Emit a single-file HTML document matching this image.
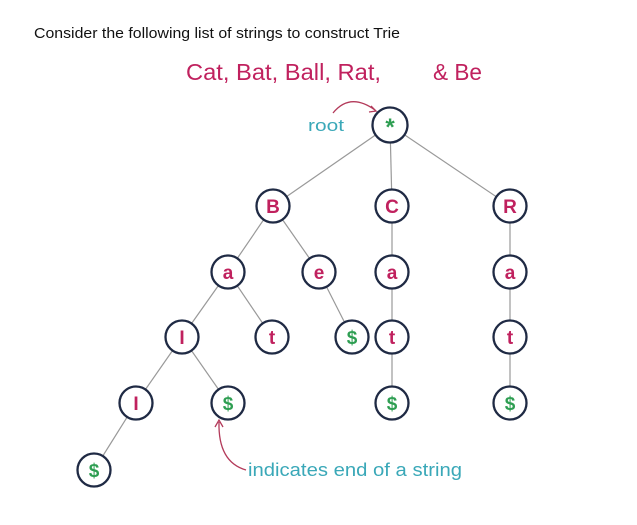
<!DOCTYPE html>
<html><head><meta charset="utf-8"><style>
html,body{margin:0;padding:0;background:#fff;width:637px;height:525px;overflow:hidden}
svg{display:block}
</style></head><body>
<svg id="s" width="637" height="525" viewBox="0 0 637 525">
<text x="34" y="38" font-family="Liberation Sans, sans-serif" font-size="15" fill="#111" textLength="366" lengthAdjust="spacingAndGlyphs">Consider the following list of strings to construct Trie</text>
<text x="186" y="80" font-family="Liberation Sans, sans-serif" font-size="23" fill="#c0215e" textLength="195" lengthAdjust="spacingAndGlyphs">Cat, Bat, Ball, Rat,</text>
<text x="433" y="80" font-family="Liberation Sans, sans-serif" font-size="23" fill="#c0215e" textLength="49" lengthAdjust="spacingAndGlyphs">&amp; Be</text>
<text x="308" y="131" font-family="Liberation Sans, sans-serif" font-size="17" fill="#3aa8b8" textLength="36" lengthAdjust="spacingAndGlyphs">root</text>
<path d="M333 113 Q350 92 375 110" fill="none" stroke="#b33a5a" stroke-width="1.3"/>
<path d="M371 106 L376 111 L369 112" fill="none" stroke="#b33a5a" stroke-width="1.3"/>
<path d="M246 470 Q218 462 219 422" fill="none" stroke="#b33a5a" stroke-width="1.3"/>
<path d="M215 427 L219 420 L223 427" fill="none" stroke="#b33a5a" stroke-width="1.3"/>
<text x="248" y="476" font-family="Liberation Sans, sans-serif" font-size="18" fill="#3aa8b8" textLength="214" lengthAdjust="spacingAndGlyphs">indicates end of a string</text>
<g id="edges"></g><g id="nodes"></g>
</svg>
<script>
const nodeLabels=['*','B','C','R','a','e','a','a','l','t','$','t','t','l','$','$','$','$'];
const nodeX=[390,273,392,510,228,319,392,510,182,272,352,392,510,136,228,392,510,94];
const nodeY=[125,206,206,206,272,272,272,272,337,337,337,337,337,403,403,403,403,470];
const edgeFrom=[0,0,0,1,1,2,3,4,4,5,6,7,8,8,11,12,13];
const edgeTo=[1,2,3,4,5,6,7,8,9,10,11,12,13,14,15,16,17];
const NS='http://www.w3.org/2000/svg';
const eg=document.getElementById('edges'),ng=document.getElementById('nodes');
edgeFrom.forEach((f,i)=>{const t=edgeTo[i];const l=document.createElementNS(NS,'line');
l.setAttribute('x1',nodeX[f]);l.setAttribute('y1',nodeY[f]);l.setAttribute('x2',nodeX[t]);l.setAttribute('y2',nodeY[t]);
l.setAttribute('stroke','#999');l.setAttribute('stroke-width','1.2');


eg.appendChild(l);});
nodeLabels.forEach((lb,i)=>{const g=document.createElementNS(NS,'g');


const c=document.createElementNS(NS,'circle');c.setAttribute('cx',nodeX[i]);c.setAttribute('cy',nodeY[i]);c.setAttribute('r',lb==='*'?'17.5':'16.5');
c.setAttribute('fill','#fff');c.setAttribute('stroke','#1f2a44');c.setAttribute('stroke-width','2.3');g.appendChild(c);
const t=document.createElementNS(NS,'text');t.setAttribute('x',nodeX[i]);t.setAttribute('y',nodeY[i]+(lb==='*'?10:7));
t.setAttribute('text-anchor','middle');t.setAttribute('font-family','Liberation Sans, sans-serif');t.setAttribute('font-weight','bold');
t.setAttribute('font-size',lb==='*'?'24':'19');
t.setAttribute('fill',(lb==='$'||lb==='*')?'#2e9e52':'#c0215e');
t.textContent=lb==='l'?'I':lb;g.appendChild(t);ng.appendChild(g);});
</script>
</body></html>
